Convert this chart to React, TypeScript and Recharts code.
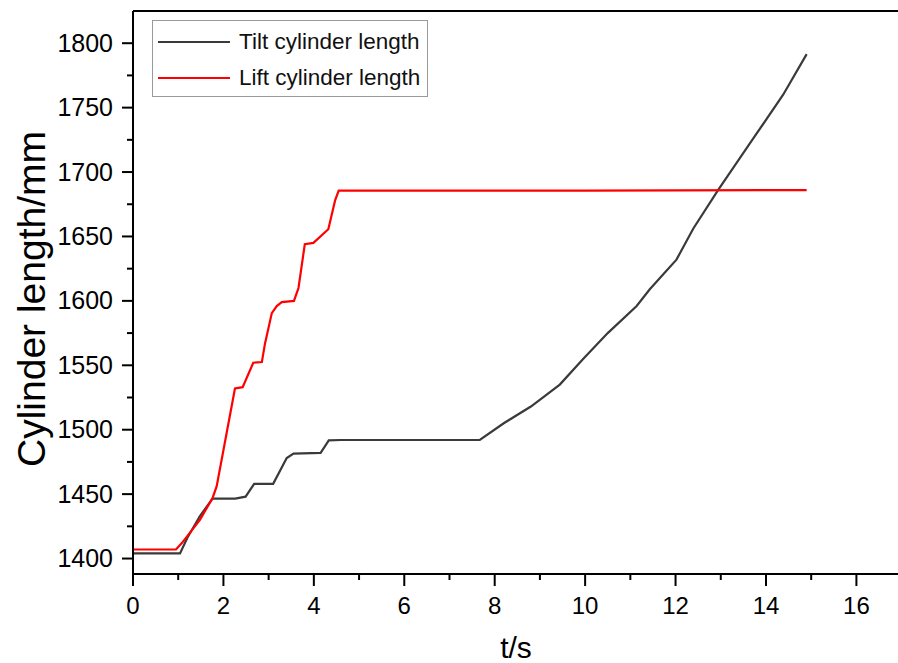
import React from 'react';
import { LineChart, Line, XAxis, YAxis, Legend, ReferenceLine } from 'recharts';

const tiltT = [0, 1.04, 1.2, 1.48, 1.76, 2.26, 2.49, 2.68, 3.1, 3.4, 3.55, 4.15, 4.33, 4.6, 7.67, 8.2, 8.8, 9.44, 9.96, 10.5, 11.14, 11.43, 12.02, 12.39, 12.94, 13.64, 14.38, 14.9];
const tiltV = [1404, 1404, 1416, 1433, 1446.5, 1446.5, 1448, 1458, 1458, 1478, 1481.5, 1482, 1491.7, 1492, 1492, 1505, 1518, 1535, 1555, 1575, 1596, 1609, 1632, 1656, 1686, 1722, 1760, 1791.5];

const liftT = [0, 0.95, 1.08, 1.48, 1.76, 1.85, 2.255, 2.425, 2.66, 2.85, 2.92, 3.07, 3.18, 3.29, 3.56, 3.66, 3.8, 3.99, 4.32, 4.47, 4.55, 10, 14.9];
const liftV = [1407, 1407, 1412, 1430, 1447, 1456, 1532, 1533, 1552, 1552.5, 1567, 1590.5, 1596, 1599, 1600, 1610, 1644, 1645, 1655.6, 1678, 1685.5, 1685.5, 1686];

const xTicks = [0, 1, 2, 3, 4, 5, 6, 7, 8, 9, 10, 11, 12, 13, 14, 15, 16];
const yTicks = [1400, 1425, 1450, 1475, 1500, 1525, 1550, 1575, 1600, 1625, 1650, 1675, 1700, 1725, 1750, 1775, 1800];

const seriesNames = ['Tilt cylinder length', 'Lift cylinder length'];
const seriesColors = ['#3a3a3a', '#ff0000'];

const tiltData = tiltT.map((t, i) => ({ t, v: tiltV[i] }));
const liftData = liftT.map((t, i) => ({ t, v: liftV[i] }));

const FONT = '"Liberation Sans", Arial, sans-serif';
const Y_MAX = 1825;

const XTick = (props: any) => {
  const { x, y, payload } = props;
  const major = payload.value % 2 === 0;
  return (
    <g>
      <line x1={x} x2={x} y1={y} y2={y + (major ? 12 : 6)} stroke="#000" strokeWidth={2} />
      {major && (
        <text x={x} y={y + 40} textAnchor="middle" fontSize={24} fontFamily={FONT} fill="#000">
          {payload.value}
        </text>
      )}
    </g>
  );
};

const YTick = (props: any) => {
  const { x, y, payload } = props;
  const major = payload.value % 50 === 0;
  return (
    <g>
      <line x1={x} x2={x - (major ? 11 : 6)} y1={y} y2={y} stroke="#000" strokeWidth={2} />
      {major && (
        <text x={x - 20} y={y + 8.5} textAnchor="end" fontSize={25} fontFamily={FONT} fill="#000">
          {payload.value}
        </text>
      )}
    </g>
  );
};

const LegendBox = () => (
  <div
    style={{
      width: 274,
      height: 75,
      border: '1px solid #9a9a9a',
      background: '#fff',
      fontFamily: FONT,
      fontSize: 22.5,
      color: '#111',
      position: 'relative',
    }}
  >
    {seriesNames.map((n, i) => (
      <div key={n} style={{ position: 'absolute', left: 5, top: 8 + i * 36, height: 26, display: 'flex', alignItems: 'center' }}>
        <div style={{ width: 72, height: 2, background: seriesColors[i] }} />
        <span style={{ marginLeft: 9, whiteSpace: 'nowrap' }}>{n}</span>
      </div>
    ))}
  </div>
);

export default function App() {
  return (
    <div style={{ position: 'absolute', left: 0, top: 0, width: 898, height: 663, background: '#fff' }}>
      <LineChart width={898} height={663} margin={{ top: 11, right: 0, bottom: 0, left: 0 }}>
        <XAxis
          xAxisId="main"
          type="number"
          dataKey="t"
          domain={[0, 16.92]}
          ticks={xTicks}
          allowDataOverflow
          height={89}
          tickSize={0}
          tickMargin={0}
          tickLine={false}
          tick={<XTick />}
          axisLine={{ stroke: '#000', strokeWidth: 2 }}
          interval={0}
        />
        <YAxis
          type="number"
          domain={[1388, Y_MAX]}
          ticks={yTicks}
          allowDataOverflow
          width={133}
          tickSize={0}
          tickMargin={0}
          tickLine={false}
          tick={<YTick />}
          axisLine={{ stroke: '#000', strokeWidth: 2 }}
          interval={0}
        />
        <ReferenceLine xAxisId="main" y={Y_MAX} stroke="#000" strokeWidth={2} ifOverflow="visible" />
        <Legend
          layout="vertical"
          verticalAlign="middle"
          align="center"
          content={<LegendBox />}
          wrapperStyle={{ position: 'absolute', left: 152, top: 20, width: 276 }}
        />
        <Line
          xAxisId="main"
          data={tiltData}
          dataKey="v"
          name={seriesNames[0]}
          stroke={seriesColors[0]}
          strokeWidth={2.2}
          dot={false}
          isAnimationActive={false}
          type="linear"
        />
        <Line
          xAxisId="main"
          data={liftData}
          dataKey="v"
          name={seriesNames[1]}
          stroke={seriesColors[1]}
          strokeWidth={2.2}
          dot={false}
          isAnimationActive={false}
          type="linear"
        />
      </LineChart>
      <svg width={898} height={663} style={{ position: 'absolute', left: 0, top: 0, pointerEvents: 'none' }}>
        <text
          x={45}
          y={299}
          transform="rotate(-90, 45, 299)"
          textAnchor="middle"
          fontSize={39}
          fontFamily={FONT}
          fill="#000"
        >
          Cylinder length/mm
        </text>
        <text x={516} y={658} textAnchor="middle" fontSize={30} fontFamily={FONT} fill="#000">
          t/s
        </text>
      </svg>
    </div>
  );
}
